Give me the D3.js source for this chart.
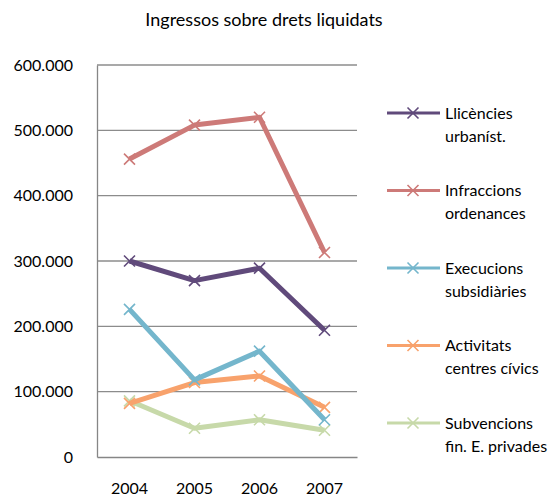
<!DOCTYPE html>
<html>
<head>
<meta charset="utf-8">
<script src="https://cdn.jsdelivr.net/npm/d3@7"></script>
<style>
  body { margin: 0; background: #fff; }
  text { font-family: Lato, "Open Sans", sans-serif; fill: #000; }
</style>
</head>
<body>
<script>
// chart data
var years = ["2004", "2005", "2006", "2007"];
var seriesNames = [
  ["Llicències", "urbaníst."],
  ["Infraccions", "ordenances"],
  ["Execucions", "subsidiàries"],
  ["Activitats", "centres cívics"],
  ["Subvencions", "fin. E. privades"]
];
var llicencies = [300000, 270000, 289000, 194000];
var infraccions = [456000, 508000, 520000, 313000];
var execucions = [226000, 118000, 162000, 57000];
var activitats = [82000, 114000, 124000, 76000];
var subvencions = [86000, 44000, 57000, 41000];
var yTicks = [0, 100000, 200000, 300000, 400000, 500000, 600000];
var colors = ["#604a7b", "#cd7a78", "#74b6cc", "#f8a26c", "#c7d9a9"];

var allSeries = [llicencies, infraccions, execucions, activitats, subvencions];

var width = 560, height = 500;
// plot area edges (window.top is reserved, so prefix these)
var plotLeft = 97, plotRight = 357, plotTop = 65, plotBottom = 457;

var svg = d3.select("body").append("svg")
  .attr("width", width)
  .attr("height", height);

// scales
var x = d3.scaleBand().domain(years).range([plotLeft, plotRight]);
var y = d3.scaleLinear().domain([0, 600000]).range([plotBottom, plotTop]);

// format with dots as thousands separator
var fmt = function(v) { return v === 0 ? "0" : d3.format(",")(v).replace(/,/g, "."); };

// gridlines
svg.append("g")
  .selectAll("line")
  .data(yTicks.slice(1))
  .enter().append("line")
  .attr("x1", plotLeft).attr("x2", plotRight)
  .attr("y1", function(d) { return y(d); })
  .attr("y2", function(d) { return y(d); })
  .attr("stroke", "#8c8c8c")
  .attr("stroke-width", 1.3);

// y axis
var yAxis = svg.append("g")
  .attr("transform", "translate(" + plotLeft + ",0)")
  .call(d3.axisLeft(y).tickValues(yTicks).tickFormat(fmt).tickSize(0).tickPadding(24));
yAxis.select(".domain").attr("stroke", "#868686").attr("stroke-width", 1.3);
yAxis.selectAll("text").style("font-size", "16px").attr("fill", "#000");

// x axis
var xAxis = svg.append("g")
  .attr("transform", "translate(0," + plotBottom + ")")
  .call(d3.axisBottom(x).tickSize(0).tickPadding(26));
xAxis.select(".domain").attr("stroke", "#868686").attr("stroke-width", 1.3);
xAxis.selectAll("text").style("font-size", "16px").attr("fill", "#000");

// title
svg.append("text")
  .attr("x", 264)
  .attr("y", 26)
  .attr("text-anchor", "middle")
  .style("font-size", "18px")
  .text("Ingressos sobre drets liquidats");

var line = d3.line()
  .x(function(d, i) { return x(years[i]) + x.bandwidth() / 2; })
  .y(function(d) { return y(d); });

function cross(g, cx, cy, s, color, w) {
  g.append("path")
    .attr("d", "M" + (cx - s) + "," + (cy - s) + "L" + (cx + s) + "," + (cy + s) +
      "M" + (cx - s) + "," + (cy + s) + "L" + (cx + s) + "," + (cy - s))
    .attr("stroke", color)
    .attr("stroke-width", w)
    .attr("fill", "none");
}

// draw from last to first so the first series sits on top
for (var k = allSeries.length - 1; k >= 0; k--) {
  var g = svg.append("g");
  g.append("path")
    .datum(allSeries[k])
    .attr("d", line)
    .attr("fill", "none")
    .attr("stroke", colors[k])
    .attr("stroke-width", 5)
    .attr("stroke-linejoin", "round");
  allSeries[k].forEach(function(v, i) {
    cross(g, x(years[i]) + x.bandwidth() / 2, y(v), 5.5, colors[k], 1.6);
  });
}

// legend
var legend = svg.append("g");
seriesNames.forEach(function(name, k) {
  var ly = 113 + k * 77.5;
  legend.append("line")
    .attr("x1", 387).attr("x2", 440)
    .attr("y1", ly).attr("y2", ly)
    .attr("stroke", colors[k])
    .attr("stroke-width", 3);
  cross(legend, 413, ly, 5.5, colors[k], 1.6);
  var t = legend.append("text")
    .attr("x", 445)
    .attr("y", ly + 5.5)
    .style("font-size", "16px");
  t.append("tspan").attr("x", 445).text(name[0]);
  t.append("tspan").attr("x", 445).attr("dy", 23).text(name[1]);
});
</script>
</body>
</html>
